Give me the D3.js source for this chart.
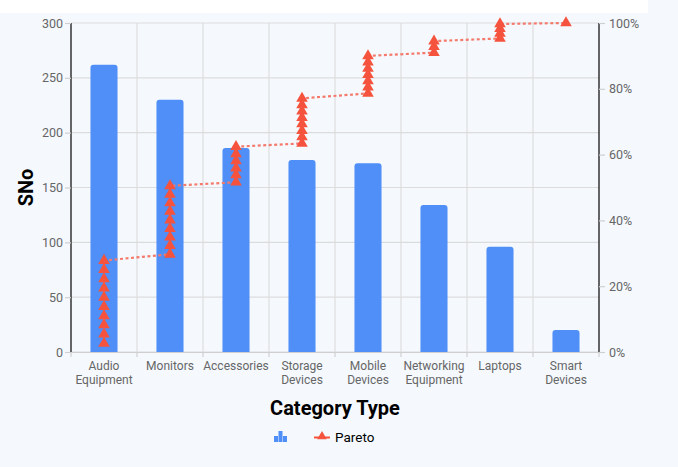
<!DOCTYPE html>
<html>
<head>
<meta charset="utf-8">
<script src="https://cdn.jsdelivr.net/npm/d3@7"></script>
<style>
  html, body { margin: 0; padding: 0; background: #f5f9fe; }
  svg { display: block; font-family: Roboto, "Noto Sans", sans-serif; }
</style>
</head>
<body>
<svg id="chart" width="678" height="467"></svg>
<script>
const categories = ["Audio Equipment","Monitors","Accessories","Storage Devices","Mobile Devices","Networking Equipment","Laptops","Smart Devices"];
const categoryLines = [["Audio","Equipment"],["Monitors"],["Accessories"],["Storage","Devices"],["Mobile","Devices"],["Networking","Equipment"],["Laptops"],["Smart","Devices"]];
const snoValues = [262, 230, 186, 175, 172, 134, 96, 20];
const leftTicks = [0, 50, 100, 150, 200, 250, 300];
const rightTicks = [0, 20, 40, 60, 80, 100];
const paretoCategory = [
  "Audio Equipment","Audio Equipment","Audio Equipment","Audio Equipment","Audio Equipment","Audio Equipment","Audio Equipment","Audio Equipment","Audio Equipment","Audio Equipment",
  "Monitors","Monitors","Monitors","Monitors","Monitors","Monitors","Monitors","Monitors","Monitors",
  "Accessories","Accessories","Accessories","Accessories","Accessories","Accessories",
  "Storage Devices","Storage Devices","Storage Devices","Storage Devices","Storage Devices","Storage Devices","Storage Devices","Storage Devices",
  "Mobile Devices","Mobile Devices","Mobile Devices","Mobile Devices","Mobile Devices","Mobile Devices","Mobile Devices",
  "Networking Equipment","Networking Equipment","Networking Equipment",
  "Laptops","Laptops","Laptops","Laptops",
  "Smart Devices"
];
const paretoPct = [
  2.6, 5.4, 8.2, 11.0, 13.8, 16.6, 19.4, 22.2, 25.0, 27.8,
  29.7, 32.3, 34.9, 37.5, 40.1, 42.7, 45.3, 47.9, 50.5,
  51.6, 53.8, 55.9, 58.1, 60.2, 62.4,
  63.4, 65.4, 67.3, 69.3, 71.2, 73.2, 75.1, 77.1,
  78.6, 80.5, 82.4, 84.3, 86.2, 88.1, 90.0,
  91.0, 92.8, 94.5,
  95.3, 96.8, 98.3, 99.7,
  100
];

const svg = d3.select("#chart");
const W = 678, H = 467;
const m = {left: 71, right: 79, top: 23, bottom: 115};
const iw = W - m.left - m.right, ih = H - m.top - m.bottom;

svg.append("rect").attr("x", 0).attr("y", 0).attr("width", 648).attr("height", 13).attr("fill", "#ffffff");

const x = d3.scaleBand().domain(categories).range([m.left, m.left + iw]).paddingInner(0).paddingOuter(0);
const y = d3.scaleLinear().domain([0, 300]).range([m.top + ih, m.top]);
const y2 = d3.scaleLinear().domain([0, 100]).range([m.top + ih, m.top]);

const g = svg.append("g");
g.selectAll(".hg").data(leftTicks).enter().append("line")
  .attr("x1", m.left).attr("x2", m.left + iw)
  .attr("y1", d => y(d)).attr("y2", d => y(d))
  .attr("stroke", "#dcdcdc").attr("stroke-width", 1.2);
const bounds = categories.map(c => x(c)).concat([m.left + iw]);
g.selectAll(".vg").data(bounds.slice(1, -1)).enter().append("line")
  .attr("x1", d => d).attr("x2", d => d)
  .attr("y1", m.top).attr("y2", m.top + ih)
  .attr("stroke", "#dcdcdc").attr("stroke-width", 1.2);

const bw = x.bandwidth() * 0.41;
const r = 3;
g.selectAll(".bar").data(categories).enter().append("path")
  .attr("fill", "#4f8ff7")
  .attr("d", (c, i) => {
    const cx = x(c) + x.bandwidth() / 2;
    const x0 = cx - bw / 2, x1 = cx + bw / 2;
    const yt = y(snoValues[i]), yb = y(0);
    return `M${x0},${yb}L${x0},${yt + r}Q${x0},${yt} ${x0 + r},${yt}L${x1 - r},${yt}Q${x1},${yt} ${x1},${yt + r}L${x1},${yb}Z`;
  });

const ax = g.append("g").attr("transform", `translate(0,${m.top + ih})`)
  .call(d3.axisBottom(x).tickSize(0).tickFormat(""));
ax.select(".domain").attr("stroke", "#cfcfcf").attr("stroke-width", 1.2);
g.selectAll(".xt").data(bounds).enter().append("line")
  .attr("x1", d => d).attr("x2", d => d)
  .attr("y1", m.top + ih).attr("y2", m.top + ih + 5)
  .attr("stroke", "#cfcfcf").attr("stroke-width", 1.2);

const ay = g.append("g").attr("transform", `translate(${m.left},0)`)
  .call(d3.axisLeft(y).tickValues(leftTicks).tickSize(6).tickPadding(2));
ay.select(".domain").attr("stroke", "#000").attr("stroke-width", 1.2).attr("d", `M0,${m.top}V${m.top + ih}`);
ay.selectAll(".tick line").attr("stroke", "#cfcfcf").attr("stroke-width", 1.2);
ay.selectAll(".tick text").attr("fill", "#666").attr("font-size", 12.5).attr("font-family", "Roboto");

const ay2 = g.append("g").attr("transform", `translate(${m.left + iw},0)`)
  .call(d3.axisRight(y2).tickValues(rightTicks).tickSize(6).tickPadding(4).tickFormat(d => d + "%"));
ay2.select(".domain").attr("stroke", "#000").attr("stroke-width", 1.2).attr("d", `M0,${m.top}V${m.top + ih}`);
ay2.selectAll(".tick line").attr("stroke", "#cfcfcf").attr("stroke-width", 1.2);
ay2.selectAll(".tick text").attr("fill", "#666").attr("font-size", 12.5).attr("font-family", "Roboto");

categories.forEach((c, i) => {
  const t = g.append("text").attr("x", x(c) + x.bandwidth() / 2).attr("y", m.top + ih + 18)
    .attr("text-anchor", "middle").attr("fill", "#666").attr("font-size", 12);
  categoryLines[i].forEach((ln, j) => {
    t.append("tspan").attr("x", x(c) + x.bandwidth() / 2).attr("dy", j === 0 ? 0 : 14).text(ln);
  });
});

const pts = paretoPct.map((p, i) => [x(paretoCategory[i]) + x.bandwidth() / 2, y2(p)]);
g.append("path").attr("d", d3.line()(pts)).attr("fill", "none")
  .attr("stroke", "#f47a6b").attr("stroke-width", 2.2).attr("stroke-dasharray", "3,2.5");
const tri = d3.symbol().type(d3.symbolTriangle).size(58);
g.selectAll(".pt").data(pts).enter().append("path")
  .attr("transform", d => `translate(${d[0]},${d[1]})`)
  .attr("d", tri).attr("fill", "#f5533d");

svg.append("text").attr("transform", `translate(33,${m.top + ih / 2}) rotate(-90)`)
  .attr("text-anchor", "middle").attr("font-size", 20).attr("font-weight", "bold").attr("fill", "#000").text("SNo");
svg.append("text").attr("x", m.left + iw / 2).attr("y", 415)
  .attr("text-anchor", "middle").attr("font-size", 20).attr("font-weight", "bold").attr("fill", "#000").text("Category Type");

const lg = svg.append("g");
[[274, 6], [278.5, 11], [283, 6]].forEach(([lx, h]) => {
  lg.append("rect").attr("x", lx).attr("y", 442 - h).attr("width", 4).attr("height", h).attr("fill", "#4f8ff7");
});
lg.append("line").attr("x1", 314).attr("x2", 330).attr("y1", 437.5).attr("y2", 437.5).attr("stroke", "#f5533d").attr("stroke-width", 2);
lg.append("path").attr("transform", "translate(322,436.5)").attr("d", d3.symbol().type(d3.symbolTriangle).size(40)).attr("fill", "#f5533d");
lg.append("text").attr("x", 335).attr("y", 442).attr("font-size", 13.5).attr("fill", "#000").text("Pareto");
</script>
</body>
</html>
